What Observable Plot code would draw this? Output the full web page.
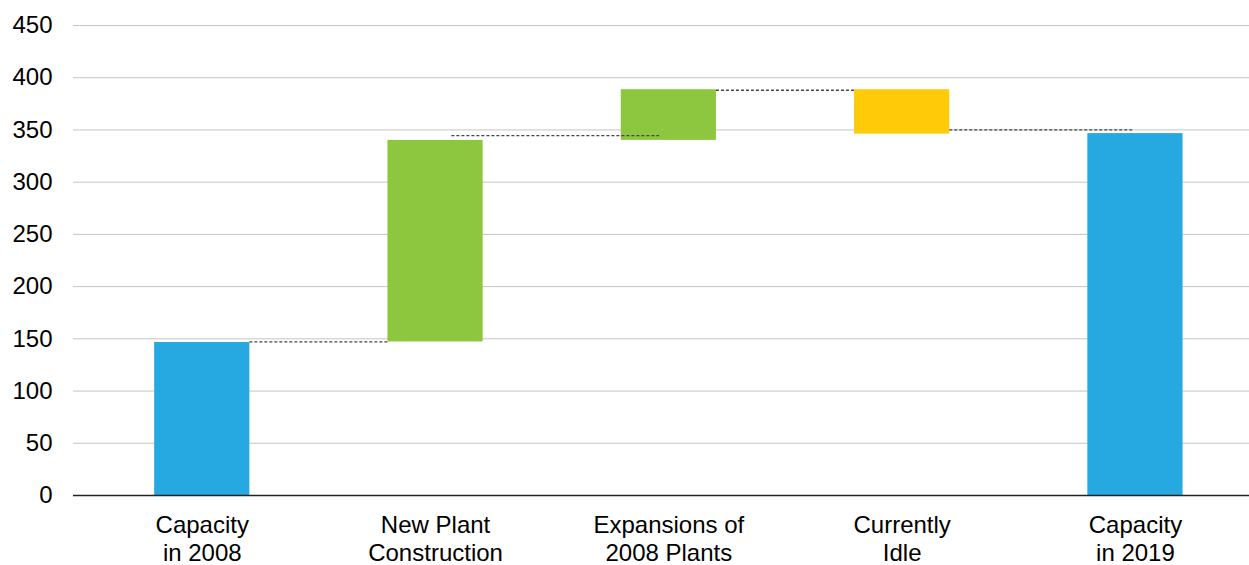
<!DOCTYPE html>
<html><head><meta charset="utf-8">
<script src="https://cdn.jsdelivr.net/npm/d3@7"></script>
<script src="https://cdn.jsdelivr.net/npm/@observablehq/plot@0.6"></script>
<style>html,body{margin:0;padding:0;background:#fff} svg{display:block}</style>
</head><body><div id="chart"></div>
<script>
// ---- data ----
const categories = ["Capacity\nin 2008", "New Plant\nConstruction", "Expansions of\n2008 Plants", "Currently\nIdle", "Capacity\nin 2019"];
const barBase = [0, 147, 340, 346, 0];
const barTop = [146.5, 340, 388.5, 388.5, 346.5];
const barKind = ["total", "increase", "increase", "decrease", "total"];
const connectorLevels = [147, 344.5, 388, 350];
const yTicks = [0, 50, 100, 150, 200, 250, 300, 350, 400, 450];

// ---- layout / style ----
const hw = 0.204; // half bar width in category units
const connectorOffsets = [[hw, -hw], [0.07, -0.04], [hw, -hw], [hw, -0.01]];
const kindColor = {total: "#25A9E0", increase: "#8DC63F", decrease: "#FFCB08"};

const bars = categories.map((c, i) => ({i, y1: barBase[i], y2: barTop[i], kind: barKind[i]}));
const conns = connectorLevels.map((v, i) => ({x1: i + connectorOffsets[i][0], x2: i + 1 + connectorOffsets[i][1], y: v}));

const chart = Plot.plot({
  width: 1249, height: 565,
  marginLeft: 73, marginRight: 0, marginTop: 25, marginBottom: 70,
  style: {fontFamily: "'Liberation Sans', Arial, sans-serif", fontSize: "24px", color: "#000", background: "#fff"},
  x: {type: "linear", domain: [-0.5, 4.5], range: [85.1, 1251.6]},
  y: {domain: [0, 450]},
  marks: [
    Plot.ruleY(yTicks.filter(v => v > 0), {stroke: "#c4c4c4", strokeWidth: 1}),
    Plot.rectY(bars, {x1: d => d.i - hw, x2: d => d.i + hw, y1: "y1", y2: "y2", fill: d => kindColor[d.kind], insetLeft: 0, insetRight: 0}),
    Plot.ruleY(conns, {x1: "x1", x2: "x2", y: "y", stroke: "#444", strokeWidth: 1.3, strokeDasharray: "3,2"}),
    Plot.ruleY([0], {stroke: "#222", strokeWidth: 1.3}),
    Plot.axisY({ticks: yTicks, tickSize: 0, tickPadding: 21, label: null, fontSize: 24}),
    Plot.axisX({ticks: [0, 1, 2, 3, 4], tickFormat: i => categories[i], tickSize: 0, tickPadding: 18, label: null, fontSize: 24, lineHeight: 1.15})
  ]
});
document.getElementById("chart").appendChild(chart);
</script>
</body></html>
